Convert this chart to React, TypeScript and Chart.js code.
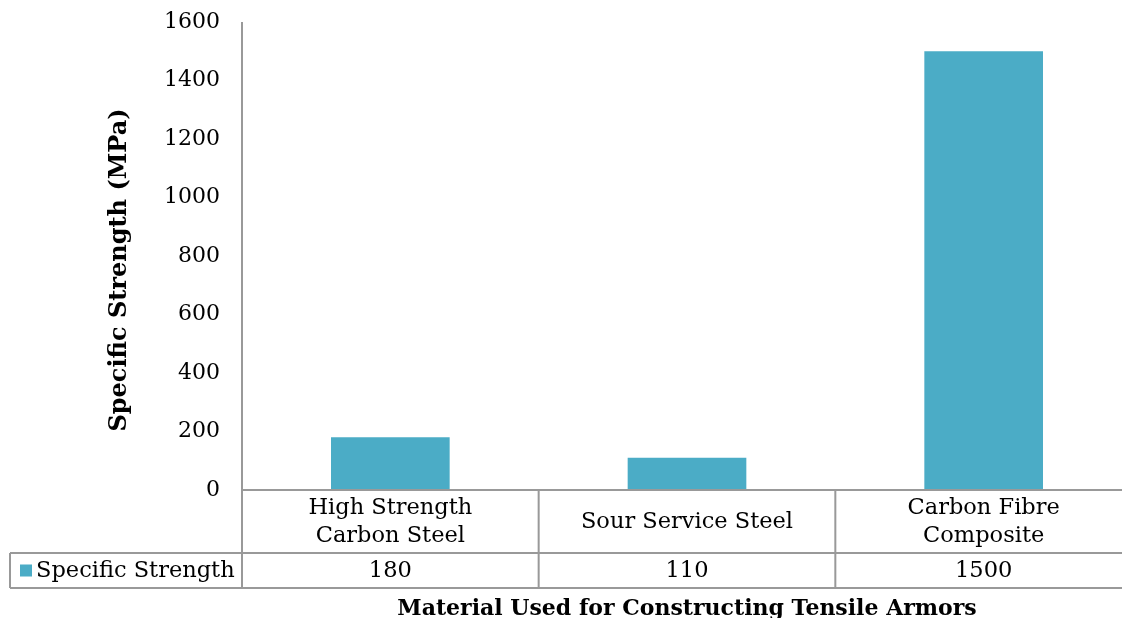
import React, { useEffect, useRef } from "react";
import { Chart, registerables } from "chart.js";

Chart.register(...registerables);

const categories: string[][] = [
  ["High Strength", "Carbon Steel"],
  ["Sour Service Steel"],
  ["Carbon Fibre", "Composite"],
];
const seriesName = "Specific Strength";
const values: number[] = [180, 110, 1500];
const yTicks: number[] = [0, 200, 400, 600, 800, 1000, 1200, 1400, 1600];
const xTitle = "Material Used for Constructing Tensile Armors";
const yTitle = "Specific Strength (MPa)";

const BAR = "#4BACC6";
const LINE = "#999999";
const FONT = "'DejaVu Serif', serif";
const CW = 1140;
const CH = 618;
const TOP = 22;

const tablePlugin = {
  id: "dataTable",
  afterDraw(chart: any) {
    const ctx = chart.ctx as CanvasRenderingContext2D;
    const x = chart.scales.x;
    const area = chart.chartArea;
    const left = area.left;
    const right = area.right;
    const bottom = area.bottom;
    const n = categories.length;
    const colW = (right - left) / n;
    const row1 = bottom + 63;
    const row2 = row1 + 35;
    const legendLeft = 10;

    ctx.save();
    ctx.strokeStyle = LINE;
    ctx.lineWidth = 2;
    ctx.beginPath();
    ctx.moveTo(left, area.top);
    ctx.lineTo(left, row2);
    ctx.moveTo(left, bottom);
    ctx.lineTo(right, bottom);
    ctx.moveTo(legendLeft, row1);
    ctx.lineTo(right, row1);
    ctx.moveTo(legendLeft, row2);
    ctx.lineTo(right, row2);
    ctx.moveTo(legendLeft, row1);
    ctx.lineTo(legendLeft, row2);
    for (let i = 0; i < n; i++) {
      const xr = x.getPixelForValue(i) + colW / 2;
      ctx.moveTo(xr, bottom);
      ctx.lineTo(xr, row2);
    }
    ctx.stroke();

    ctx.fillStyle = "#000";
    ctx.textAlign = "center";
    ctx.textBaseline = "middle";
    ctx.font = `22.5px ${FONT}`;
    const lh = 28;
    const midCat = (bottom + row1) / 2;
    categories.forEach((lines, i) => {
      const cx = x.getPixelForValue(i);
      const start = midCat - ((lines.length - 1) * lh) / 2;
      lines.forEach((l, j) => ctx.fillText(l, cx, start + j * lh + 1));
      ctx.fillText(String(values[i]), cx, (row1 + row2) / 2 + 1);
    });

    ctx.fillStyle = BAR;
    ctx.fillRect(20, (row1 + row2) / 2 - 6, 12, 12);
    ctx.fillStyle = "#000";
    ctx.textAlign = "left";
    ctx.fillText(seriesName, 36, (row1 + row2) / 2 + 1);

    ctx.font = `bold 22px ${FONT}`;
    ctx.textAlign = "center";
    ctx.fillText(xTitle, (left + right) / 2, 609);

    ctx.save();
    ctx.translate(120, 270);
    ctx.rotate(-Math.PI / 2);
    ctx.font = `bold 24px ${FONT}`;
    ctx.fillText(yTitle, 0, 0);
    ctx.restore();
    ctx.restore();
  },
};

export default function App() {
  const ref = useRef<HTMLCanvasElement | null>(null);
  useEffect(() => {
    if (!ref.current) return;
    const chart = new Chart(ref.current, {
      type: "bar",
      data: {
        labels: categories.map((c) => c.join(" ")),
        datasets: [
          {
            label: seriesName,
            data: values,
            backgroundColor: BAR,
            borderWidth: 0,
            barPercentage: 0.4,
            categoryPercentage: 1,
          },
        ],
      },
      options: {
        responsive: false,
        animation: false,
        layout: { padding: { left: 0, right: CW - 1132, top: TOP, bottom: 0 } },
        plugins: { legend: { display: false }, tooltip: { enabled: false } },
        scales: {
          x: {
            ticks: { display: false },
            grid: { display: false, drawTicks: false },
            border: { display: false },
            afterFit: (s: any) => {
              s.height = CH - 490;
              s.paddingLeft = 0;
              s.paddingRight = 0;
            },
          },
          y: {
            min: 0,
            max: 1600,
            afterBuildTicks: (s: any) => {
              s.ticks = yTicks.map((v) => ({ value: v }));
            },
            ticks: {
              color: "#000",
              font: { family: FONT, size: 22 },
              padding: 22,
              callback: (v: any) => String(v),
            },
            grid: { display: false, drawTicks: false },
            border: { display: false },
            afterFit: (s: any) => {
              s.width = 242;
              s.paddingTop = 0;
              s.paddingBottom = 0;
            },
          },
        },
      },
      plugins: [tablePlugin],
    });
    return () => chart.destroy();
  }, []);
  return (
    <div
      style={{
        position: "fixed",
        left: 0,
        top: 0,
        width: 1122,
        height: 618,
        overflow: "hidden",
        background: "#fff",
      }}
    >
      <canvas ref={ref} width={CW} height={CH} style={{ width: CW, height: CH, display: "block" }} />
    </div>
  );
}
